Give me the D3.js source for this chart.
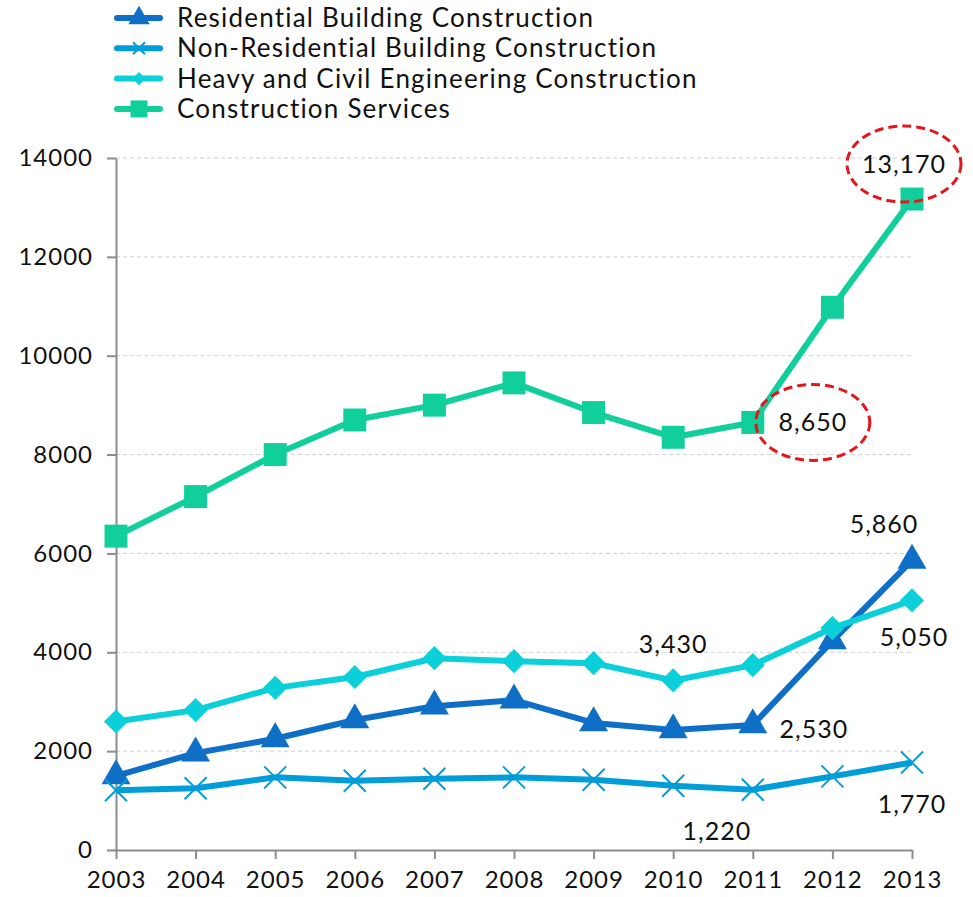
<!DOCTYPE html>
<head>
    <meta charset="utf-8">
    <title>Construction Employment</title>
    <style>
        body { margin: 0; background: #fff; }
        text { font-family: "Lato", "DejaVu Sans", sans-serif; fill: #111; }
        .axis text { font-size: 24px; letter-spacing: 1px; }
        .axis path, .axis line { stroke: #8c8c8c; stroke-width: 2; }
        .legend text { font-size: 26px; letter-spacing: 1.2px; }
        .label { font-size: 25px; letter-spacing: 1px; }
    </style>
    <script src="https://cdn.jsdelivr.net/npm/d3@7"></script>
</head>
<body>
<script>
    var years = [2003, 2004, 2005, 2006, 2007, 2008, 2009, 2010, 2011, 2012, 2013];
    var residential = [1500, 1960, 2250, 2630, 2910, 3030, 2570, 2430, 2530, 4230, 5860];
    var nonResidential = [1210, 1250, 1470, 1400, 1440, 1470, 1420, 1300, 1220, 1490, 1770];
    var heavyCivil = [2600, 2830, 3280, 3500, 3880, 3820, 3780, 3430, 3740, 4490, 5050];
    var services = [6350, 7150, 8000, 8700, 9000, 9450, 8850, 8350, 8650, 10980, 13170];
    var yTicks = [0, 2000, 4000, 6000, 8000, 10000, 12000, 14000];

    var seriesNames = ["Residential Building Construction", "Non-Residential Building Construction",
        "Heavy and Civil Engineering Construction", "Construction Services"];
    var colors = ["#0F6FC6", "#009DD9", "#0BD0D9", "#10CF9B"];
    var symbols = ["triangle", "cross", "diamond", "square"];

    // annotated values: [series index, year index, dx, dy, circled]
    var labels = [
        [3, 10, -8, -35, true],
        [3, 8, 60, 0, true],
        [0, 10, -28, -36, false],
        [2, 10, 2, 37, false],
        [2, 7, 0, -36, false],
        [0, 8, 61, 4, false],
        [1, 10, 0, 42, false],
        [1, 8, -36, 42, false]
    ];

    var margin = { top: 158, right: 61, bottom: 47, left: 116 },
        width = 973 - margin.left - margin.right,
        height = 897 - margin.top - margin.bottom;

    var x = d3.scalePoint().domain(years).range([0, width]);
    var y = d3.scaleLinear().domain([0, 14000]).range([height, 0]);

    var svg = d3.select("body").append("svg")
        .attr("width", 973).attr("height", 897);

    var plot = svg.append("g")
        .attr("transform", "translate(" + margin.left + "," + margin.top + ")");

    // grid
    plot.append("g").selectAll("line")
        .data(yTicks.filter(d => d > 0))
        .enter().append("line")
        .attr("x1", 0).attr("x2", width)
        .attr("y1", d => y(d)).attr("y2", d => y(d))
        .attr("stroke", "#d0d0d0").attr("stroke-dasharray", "4,3").attr("stroke-width", 1);

    plot.append("g")
        .attr("class", "axis")
        .attr("transform", "translate(0," + height + ")")
        .call(d3.axisBottom(x).tickSize(9).tickSizeOuter(0).tickPadding(12))
        .call(g => g.selectAll("text").attr("dy", "0.71em"));

    plot.append("g")
        .attr("class", "axis")
        .call(d3.axisLeft(y).tickValues(yTicks).tickFormat(d3.format("d")).tickSize(9).tickSizeOuter(0).tickPadding(14));

    var data = [residential, nonResidential, heavyCivil, services];

    function drawMarker(g, type, color, size) {
        var s = size / 2;
        if (type === "cross") {
            g.append("path")
                .attr("d", "M" + (-s) + "," + (-s) + "L" + s + "," + s + "M" + (-s) + "," + s + "L" + s + "," + (-s))
                .attr("stroke", color).attr("stroke-width", 2).attr("fill", "none");
        } else if (type === "diamond") {
            var h = s * 1.1;
            g.append("path")
                .attr("d", "M0," + (-h) + "L" + h + ",0L0," + h + "L" + (-h) + ",0Z")
                .attr("fill", color);
        } else {
            var sym = { triangle: d3.symbolTriangle, square: d3.symbolSquare }[type];
            var area = { triangle: 330, square: 480 }[type];
            g.append("path")
                .attr("d", d3.symbol().type(sym).size(area * size / 20)())
                .attr("fill", color);
        }
    }

    var line = d3.line().x((d, i) => x(years[i])).y(d => y(d));

    data.forEach(function (vals, s) {
        plot.append("path")
            .datum(vals)
            .attr("d", line)
            .attr("fill", "none")
            .attr("stroke", colors[s])
            .attr("stroke-width", 6)
            .attr("stroke-linejoin", "round");
        vals.forEach(function (v, i) {
            var g = plot.append("g").attr("transform", "translate(" + x(years[i]) + "," + y(v) + ")");
            drawMarker(g, symbols[s], colors[s], 22);
        });
    });

    // data labels
    labels.forEach(function (l) {
        var v = data[l[0]][l[1]];
        var cx = x(years[l[1]]) + l[2], cy = y(v) + l[3];
        if (l[4]) {
            plot.append("ellipse")
                .attr("cx", cx).attr("cy", cy)
                .attr("rx", 57).attr("ry", 38)
                .attr("fill", "none").attr("stroke", "#e8141c")
                .attr("stroke-width", 3).attr("stroke-dasharray", "9,5");
        }
        plot.append("text")
            .attr("class", "label")
            .attr("x", cx).attr("y", cy)
            .attr("dy", "0.35em")
            .attr("text-anchor", "middle")
            .text(d3.format(",")(v));
    });

    // legend
    var legend = svg.append("g").attr("class", "legend");
    seriesNames.forEach(function (name, i) {
        var ly = 18 + i * 30.3;
        var g = legend.append("g").attr("transform", "translate(0," + ly + ")");
        g.append("line").attr("x1", 117).attr("x2", 160).attr("y1", 0).attr("y2", 0)
            .attr("stroke", colors[i]).attr("stroke-width", 6).attr("stroke-linecap", "round");
        var m = g.append("g").attr("transform", "translate(139,0)");
        drawMarker(m, symbols[i], colors[i], 12);
        g.append("text").attr("x", 177).attr("y", 0).attr("dy", "0.35em").text(name);
    });
</script>
</body>
